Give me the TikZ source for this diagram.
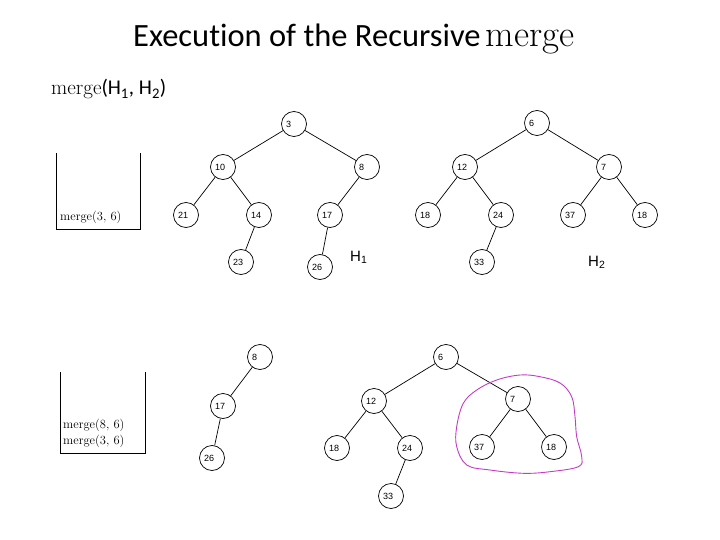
\documentclass[tikz,border=0pt]{standalone}
\usepackage{fontspec}
\newfontfamily\calib[Ligatures=NoCommon]{Carlito}
\newfontfamily\nodefont{Liberation Sans}
\definecolor{blobcol}{RGB}{195,60,195}
\tikzset{
  hn/.style={circle, draw, line width=0.7pt, minimum size=25pt, inner sep=0pt,
     text width=16pt, align=left, font=\nodefont\fontsize{9}{10}\selectfont},
  edge/.style={line width=0.7pt},
  stackbox/.style={line width=0.8pt},
  stacktxt/.style={anchor=base west, inner sep=0pt, font=\fontsize{12.5}{14}\selectfont},
  hlabel/.style={anchor=base west, inner sep=0pt, font=\nodefont\fontsize{15}{18}\selectfont}
}
\begin{document}
\begin{tikzpicture}[x=1pt,y=-1pt]
\useasboundingbox (0,0) rectangle (720,540);
% title
\node[anchor=base west, inner sep=0pt] (title) at (133,47)
  {\fontsize{32.5}{36}\calib Execution of the Recursive\hspace{5pt}\fontsize{37}{40}\rmfamily merge};
\node[anchor=base west, inner sep=0pt] (call) at (51,95)
  {\fontsize{21}{24}\selectfont merge\calib(H\textsubscript{1}, H\textsubscript{2})};

% H1
\node[hn] (a3)  at (294,124) {3};
\node[hn] (a10) at (223,167) {10};
\node[hn] (a8)  at (367,167) {8};
\node[hn] (a21) at (186,215) {21};
\node[hn] (a14) at (259,215) {14};
\node[hn] (a17) at (330,215) {17};
\node[hn] (a23) at (241,262) {23};
\node[hn] (a26) at (320,267) {26};
\draw[edge] (a3) -- (a10);
\draw[edge] (a3) -- (a8);
\draw[edge] (a10) -- (a21);
\draw[edge] (a10) -- (a14);
\draw[edge] (a14) -- (a23);
\draw[edge] (a8) -- (a17);
\draw[edge] (a17) -- (a26);
\node[hlabel] (h1) at (350,261) {H\textsubscript{1}};

% H2
\node[hn] (b6)   at (537,123) {6};
\node[hn] (b12)  at (465,167) {12};
\node[hn] (b7)   at (609,167) {7};
\node[hn] (b18a) at (428,215) {18};
\node[hn] (b24)  at (501,215) {24};
\node[hn] (b37)  at (573,215) {37};
\node[hn] (b18b) at (645,215) {18};
\node[hn] (b33)  at (482,262) {33};
\draw[edge] (b6) -- (b12);
\draw[edge] (b6) -- (b7);
\draw[edge] (b12) -- (b18a);
\draw[edge] (b12) -- (b24);
\draw[edge] (b24) -- (b33);
\draw[edge] (b7) -- (b37);
\draw[edge] (b7) -- (b18b);
\node[hlabel] (h2) at (588,266) {H\textsubscript{2}};

% stack 1
\draw[stackbox] (56,153) -- (56,229) -- (140,229) -- (140,153);
\node[stacktxt] (s1) at (60,221) {merge(3, 6)};

% stack 2
\draw[stackbox] (60,372) -- (60,453) -- (145,453) -- (145,372);
\node[stacktxt] (s2a) at (63,428) {merge(8, 6)};
\node[stacktxt] (s2b) at (63,444) {merge(3, 6)};

% bottom left tree
\node[hn] (c8)  at (260,357) {8};
\node[hn] (c17) at (223,406) {17};
\node[hn] (c26) at (212,458) {26};
\draw[edge] (c8) -- (c17);
\draw[edge] (c17) -- (c26);

% bottom right tree
\node[hn] (d6)   at (446,357) {6};
\node[hn] (d12)  at (374,401) {12};
\node[hn] (d18)  at (337,448) {18};
\node[hn] (d24)  at (410,448) {24};
\node[hn] (d33)  at (391,496) {33};
\node[hn] (d7)   at (518,399) {7};
\node[hn] (d37)  at (482,447) {37};
\node[hn] (d18b) at (554,447) {18};
\draw[edge] (d6) -- (d12);
\draw[edge] (d6) -- (d7);
\draw[edge] (d12) -- (d18);
\draw[edge] (d12) -- (d24);
\draw[edge] (d24) -- (d33);
\draw[edge] (d7) -- (d37);
\draw[edge] (d7) -- (d18b);

% magenta outline
\draw[blobcol, line width=0.9pt] plot[smooth cycle, tension=0.6] coordinates {
  (520,375) (540,376.7) (560,383) (571.7,396.7) (575,416.7) (576.7,436.7)
  (581.7,456.7) (578.3,466.7) (550,471.7) (523.3,473.3) (490,470) (466.7,465)
  (456.7,446.7) (456.7,426.7) (463.3,403.3) (476.7,390) (496.7,380)};
\end{tikzpicture}
\end{document}
